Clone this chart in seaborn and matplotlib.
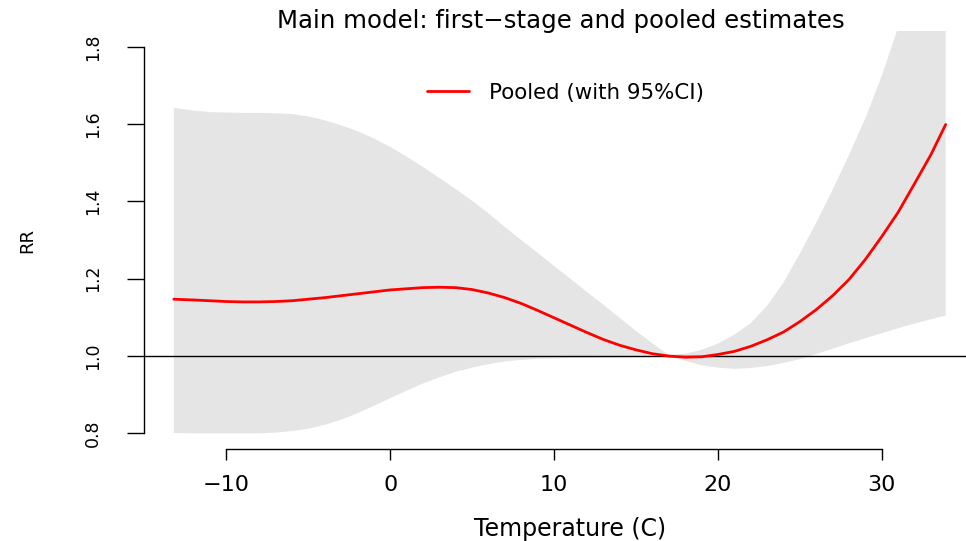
import numpy as np
import pandas as pd
import matplotlib
matplotlib.use("Agg")
import matplotlib.pyplot as plt
import seaborn as sns

# values
temps = [-13.2, -12, -11, -10, -9, -8, -7, -6, -5, -4, -3, -2, -1, 0, 1, 2, 3, 4, 5, 6,
         7, 8, 9, 10, 11, 12, 13, 14, 15, 16, 17, 18, 19, 20, 21, 22, 23, 24, 25, 26,
         27, 28, 29, 30, 31, 32, 33, 33.9]
rr = [1.147, 1.145, 1.143, 1.141, 1.140, 1.140, 1.141, 1.143, 1.147, 1.151, 1.156, 1.161,
      1.166, 1.171, 1.174, 1.177, 1.178, 1.177, 1.172, 1.163, 1.151, 1.136, 1.118, 1.099,
      1.080, 1.061, 1.043, 1.028, 1.016, 1.006, 1.000, 0.997, 0.998, 1.004, 1.012, 1.025,
      1.042, 1.062, 1.089, 1.120, 1.156, 1.198, 1.250, 1.309, 1.372, 1.446, 1.521, 1.599]
rr_high = [1.642, 1.635, 1.631, 1.630, 1.629, 1.629, 1.628, 1.626, 1.620, 1.610, 1.597,
           1.582, 1.563, 1.541, 1.516, 1.489, 1.461, 1.432, 1.402, 1.369, 1.334, 1.300,
           1.267, 1.233, 1.200, 1.166, 1.133, 1.099, 1.065, 1.033, 1.003, 1.006, 1.016,
           1.032, 1.055, 1.085, 1.130, 1.190, 1.265, 1.345, 1.430, 1.520, 1.615, 1.725,
           1.850, 1.98, 2.11, 2.23]
rr_low = [0.801, 0.800, 0.800, 0.800, 0.800, 0.800, 0.802, 0.806, 0.812, 0.822, 0.835,
          0.852, 0.871, 0.891, 0.910, 0.929, 0.945, 0.959, 0.970, 0.979, 0.986, 0.990,
          0.993, 0.994, 0.995, 0.995, 0.996, 0.996, 0.997, 0.998, 0.999, 0.988, 0.976,
          0.970, 0.967, 0.969, 0.974, 0.982, 0.992, 1.005, 1.019, 1.033, 1.046, 1.059,
          1.072, 1.084, 1.095, 1.105]

x_ticks = [-10, 0, 10, 20, 30]
y_ticks = [0.8, 1.0, 1.2, 1.4, 1.6, 1.8]

df = pd.DataFrame({"temp": temps, "rr": rr, "low": rr_low, "high": rr_high})

sns.set_style("ticks")
plt.rcParams["font.family"] = ["DejaVu Sans"]
plt.rcParams["text.color"] = "black"

fig = plt.figure(figsize=(9.66, 5.41), dpi=100)
ax = fig.add_axes([0.1494, 0.1704, 0.8618, 0.7717])

# confidence band, reference line, pooled curve
ax.fill_between(df["temp"], df["low"], df["high"], color="#e5e5e5", lw=0, zorder=1)
ax.axhline(1, color="black", lw=1.0, zorder=2)
sns.lineplot(data=df, x="temp", y="rr", color="red", lw=2.0, ax=ax,
             label="Pooled (with 95%CI)", zorder=3)

ax.set_xlim(-15.0, 35.8)
ax.set_ylim(0.76, 1.84)

ax.set_xticks(x_ticks)
ax.set_yticks(y_ticks)
ax.set_xticklabels([f"{t}".replace("-", "\u2212") for t in x_ticks])
ax.set_yticklabels([f"{t:.1f}" for t in y_ticks])

for s in ["top", "right"]:
    ax.spines[s].set_visible(False)
ax.spines["bottom"].set_bounds(-10, 30)
ax.spines["left"].set_bounds(0.8, 1.8)
for s in ["bottom", "left"]:
    ax.spines[s].set_linewidth(1.0)
    ax.spines[s].set_color("black")

ax.tick_params(axis="x", length=8, width=1.0, pad=11, labelsize=16, colors="black")
ax.tick_params(axis="y", length=12.5, width=1.0, pad=18, labelsize=12.5, colors="black")
for lab in ax.get_yticklabels():
    lab.set_rotation(90)
    lab.set_va("center")

ax.set_xlabel("")
ax.set_ylabel("")
fig.text(570 / 966, 1 - 529 / 541, "Temperature (C)", ha="center", va="center", fontsize=17)
fig.text(27 / 966, 1 - 240 / 541, "RR", ha="center", va="center", rotation=90, fontsize=13)
fig.text(561 / 966, 1 - 21 / 541, "Main model: first\u2212stage and pooled estimates",
         ha="center", va="center", fontsize=17.6)

leg = ax.legend(loc="center left", bbox_to_anchor=(426.7 / 966, 1 - 92.7 / 541),
                bbox_transform=fig.transFigure, frameon=False, fontsize=15.4,
                handlelength=2.0, handletextpad=0.9, borderpad=0, borderaxespad=0)
for t in leg.get_texts():
    t.set_color("black")

fig.savefig("out.png", dpi=100)
